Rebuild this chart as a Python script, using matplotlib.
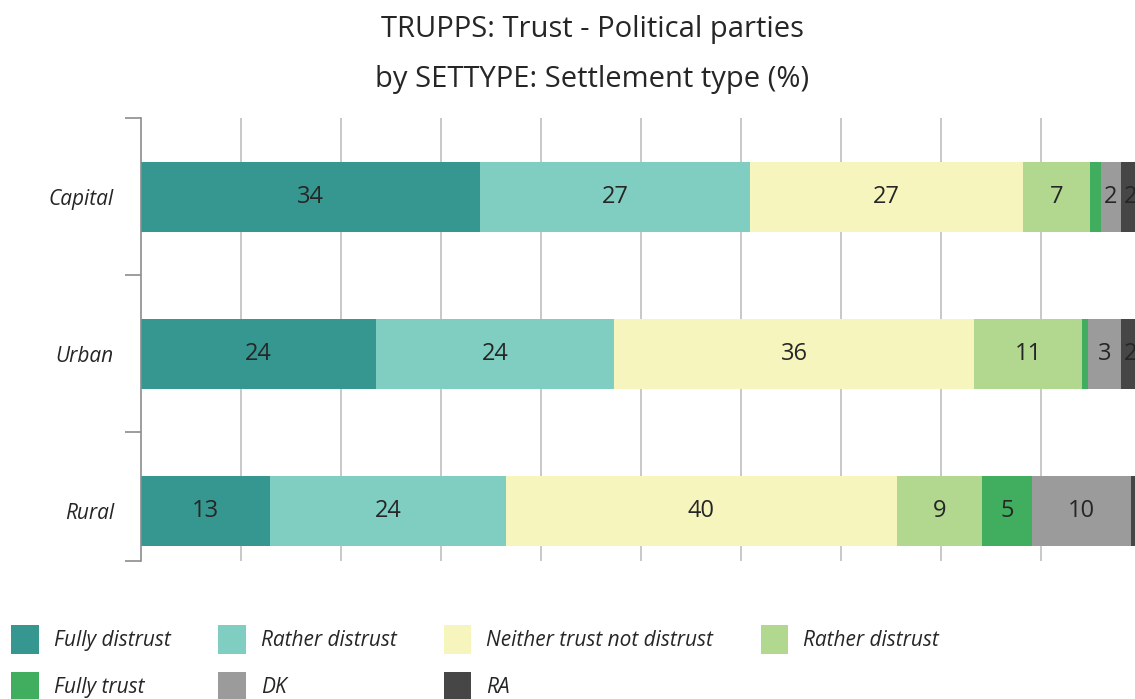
import numpy as np
import matplotlib
matplotlib.use("Agg")
import matplotlib.pyplot as plt
from matplotlib.patches import Patch

plt.rcParams['font.family'] = ['Open Sans', 'DejaVu Sans']

# dane
categories = ['Capital', 'Urban', 'Rural']
series = ['Fully distrust', 'Rather distrust', 'Neither trust not distrust',
          'Rather distrust', 'Fully trust', 'DK', 'RA']
fully_distrust = [33.9, 23.5, 12.9]
rather_distrust = [27.0, 23.8, 23.6]
neither = [27.3, 36.0, 39.1]
rather_trust = [6.7, 10.8, 8.5]
fully_trust = [1.1, 0.6, 5.0]
dk = [2.0, 3.3, 9.9]
ra = [2.0, 2.0, 1.0]

# etykiety na slupkach (zaokraglone jak w zrodle)
bar_labels = [['34', '24', '13'],
              ['27', '24', '24'],
              ['27', '36', '40'],
              ['7', '11', '9'],
              ['', '', '5'],
              ['2', '3', '10'],
              ['2', '2', '']]

colors = ['#35978f', '#80cdc1', '#f5f5bd', '#b2d78e', '#41ad5e', '#9b9b9b', '#464646']
values = [fully_distrust, rather_distrust, neither, rather_trust, fully_trust, dk, ra]

fig = plt.figure(figsize=(11.35, 6.99), dpi=100)
ax = fig.add_axes([141 / 1135, 1 - 561 / 699, 1000 / 1135, 443 / 699])

y = np.arange(len(categories))
left = np.zeros(len(categories))
for vals, labs, col in zip(values, bar_labels, colors):
    vals = np.array(vals)
    ax.barh(y, vals, left=left, height=0.446, color=col, zorder=2)
    for yi, v, l, lab in zip(y, vals, left, labs):
        if lab:
            ax.text(l + v / 2, yi, lab, ha='center', va='center',
                    fontsize=17, color='#262626', zorder=3)
    left += vals

ax.set_xlim(0, 100)
ax.set_ylim(2.32, -0.5)
ax.set_xticks(np.arange(10, 100, 10))
ax.tick_params(axis='x', length=0, labelbottom=False)
ax.grid(axis='x', color='#c8c8c8', linewidth=1.4, zorder=0)

ax.set_yticks(y)
ax.set_yticklabels(categories, fontstyle='italic', fontsize=15, color='#262626')
ax.tick_params(axis='y', which='major', length=0, pad=19.5)
ax.set_yticks([-0.5, 0.5, 1.5, 2.32], minor=True)
ax.tick_params(axis='y', which='minor', length=11.5, width=1.2, color='#8c8c8c')

for s in ['top', 'right', 'bottom']:
    ax.spines[s].set_visible(False)
ax.spines['left'].set_color('#8c8c8c')
ax.spines['left'].set_linewidth(1.2)

fig.text(592 / 1135, 1 - 29 / 699, 'TRUPPS: Trust - Political parties', ha='center', va='center',
         fontsize=21, color='#262626')
fig.text(592 / 1135, 1 - 79 / 699, 'by SETTYPE: Settlement type (%)', ha='center', va='center',
         fontsize=21, color='#262626')

handles = [Patch(facecolor=c, edgecolor='none') for c in colors]
order = [0, 4, 1, 5, 2, 6, 3]
leg = fig.legend([handles[i] for i in order], [series[i] for i in order],
                 ncol=4, loc='upper left', bbox_to_anchor=(5 / 1135, 1 - 619 / 699),
                 frameon=False, handlelength=1.33, handleheight=1.75,
                 handletextpad=0.72, columnspacing=2.27, labelspacing=0.85,
                 prop={'style': 'italic', 'size': 15}, borderaxespad=0, borderpad=0.3)
for t in leg.get_texts():
    t.set_color('#262626')

fig.savefig('out.png', dpi=100)
